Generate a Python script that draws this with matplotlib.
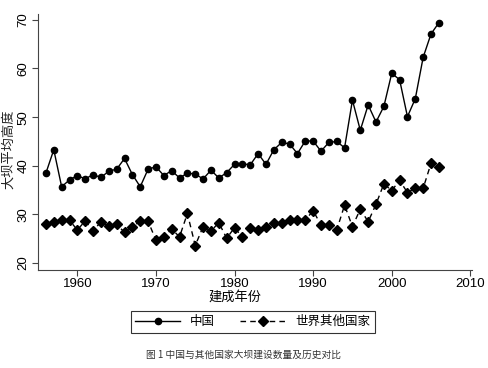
import matplotlib
matplotlib.use("Agg")
from matplotlib import pyplot as plt

plt.rcParams['font.family'] = ['Liberation Sans', 'Noto Sans CJK SC', 'DejaVu Sans']

years = list(range(1956, 2007))
china = [38.5, 43.3, 35.7, 37.1, 38.0, 37.3, 38.2, 37.6, 38.9, 39.3,
         41.5, 38.2, 35.7, 39.3, 39.8, 38.0, 39.0, 37.5, 38.5, 38.3,
         37.3, 39.1, 37.5, 38.6, 40.3, 40.4, 40.2, 42.5, 40.3, 43.3,
         44.8, 44.5, 42.5, 45.1, 45.1, 43.0, 44.8, 45.0, 43.7, 53.5,
         47.3, 52.5, 49.0, 52.2, 59.0, 57.7, 50.1, 53.8, 62.3, 67.1,
         69.4]
others = [28.0, 28.5, 28.8, 28.8, 26.8, 28.7, 26.6, 28.5, 27.6, 28.0,
          26.3, 27.5, 28.6, 28.6, 24.7, 25.4, 27.0, 25.4, 30.2, 23.6,
          27.5, 26.6, 28.3, 25.1, 27.3, 25.3, 27.3, 26.8, 27.5, 28.2,
          28.2, 28.9, 28.8, 28.8, 30.8, 27.8, 27.8, 26.8, 31.9, 27.5,
          31.1, 28.5, 32.1, 36.3, 34.9, 37.0, 34.5, 35.4, 35.4, 40.5,
          39.8]
xticks = [1960, 1970, 1980, 1990, 2000, 2010]
yticks = [20, 30, 40, 50, 60, 70]

fig = plt.figure(figsize=(4.88, 3.68), dpi=100)
ax = fig.add_axes([0.078, 0.266, 0.889, 0.696])

ax.plot(years, china, '-', color='black', lw=1.0, marker='o', ms=4.5, label='中国')
ax.plot(years, others, '--', color='black', lw=1.0, marker='D', ms=5.5, label='世界其他国家',
        dashes=(4, 3))

ax.set_xlim(1955, 2010.2)
ax.set_ylim(18.56, 71.2)
ax.set_xticks(xticks)
ax.set_yticks(yticks)
ax.set_yticklabels([str(v) for v in yticks], rotation=90, va='center')
ax.tick_params(labelsize=9.5, length=4, width=0.8, color='#444444', pad=2)
for s in ['top', 'right']:
    ax.spines[s].set_visible(False)
for s in ['left', 'bottom']:
    ax.spines[s].set_linewidth(0.8)
    ax.spines[s].set_color('#444444')

ax.set_xlabel('建成年份', fontsize=9.5, family=['Noto Sans CJK SC'])
ax.xaxis.set_label_coords(0.453, -0.082)
ax.set_ylabel('大坝平均高度', fontsize=9.5, family=['Noto Sans CJK SC'], color='#222222')
ax.yaxis.set_label_coords(-0.053, 0.47)

leg = fig.legend(loc='center', bbox_to_anchor=(0.518, 0.126), ncol=2, frameon=True,
                 fancybox=False, edgecolor='black', handlelength=3.6,
                 columnspacing=2.0, borderpad=0.35, handletextpad=0.8,
                 prop={'family': 'Noto Sans CJK SC', 'size': 9})
leg.get_frame().set_linewidth(0.8)

fig.text(0.5, 0.035, '图 1 中国与其他国家大坝建设数量及历史对比', ha='center', va='center',
         fontsize=7, color='#333333', family=['Noto Sans CJK SC'])

plt.savefig('out.png', dpi=100)
